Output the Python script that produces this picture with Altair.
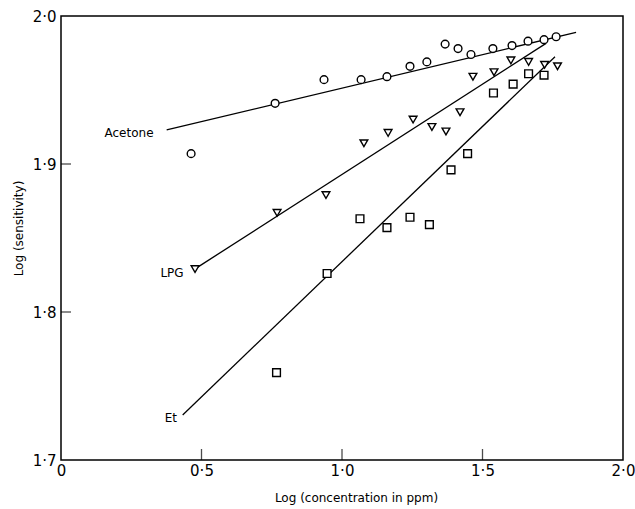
import altair as alt
import pandas as pd

# Acetone (circles)
acetone_x = [0.463, 0.762, 0.936, 1.068, 1.160, 1.242, 1.302, 1.367, 1.413, 1.459, 1.537, 1.605, 1.662, 1.719, 1.762]
acetone_y = [1.907, 1.941, 1.957, 1.957, 1.959, 1.966, 1.969, 1.981, 1.978, 1.974, 1.978, 1.980, 1.983, 1.984, 1.986]
# LPG (down triangles)
lpg_x = [0.477, 0.769, 0.943, 1.078, 1.164, 1.253, 1.320, 1.370, 1.420, 1.466, 1.541, 1.601, 1.664, 1.721, 1.767]
lpg_y = [1.829, 1.867, 1.879, 1.914, 1.921, 1.930, 1.925, 1.922, 1.935, 1.959, 1.962, 1.970, 1.969, 1.967, 1.966]
# Et (squares)
et_x = [0.767, 0.947, 1.064, 1.160, 1.242, 1.311, 1.388, 1.447, 1.539, 1.609, 1.664, 1.719]
et_y = [1.759, 1.826, 1.863, 1.857, 1.864, 1.859, 1.896, 1.907, 1.948, 1.954, 1.961, 1.960]

# fitted lines (end points)
acetone_line_x = [0.376, 1.833]
acetone_line_y = [1.923, 1.989]
lpg_line_x = [0.484, 1.726]
lpg_line_y = [1.830, 1.9815]
et_line_x = [0.433, 1.758]
et_line_y = [1.7304, 1.9725]

series_names = ["Acetone", "LPG", "Et"]
label_x = [0.242, 0.395, 0.391]
label_y = [1.921, 1.8264, 1.7284]

x_ticks = [0.5, 1.0, 1.5]
y_ticks = [1.8, 1.9]

pts = pd.concat([
    pd.DataFrame({"x": acetone_x, "y": acetone_y, "s": "Acetone"}),
    pd.DataFrame({"x": lpg_x, "y": lpg_y, "s": "LPG"}),
    pd.DataFrame({"x": et_x, "y": et_y, "s": "Et"}),
])
lines = pd.concat([
    pd.DataFrame({"x": acetone_line_x, "y": acetone_line_y, "s": "Acetone"}),
    pd.DataFrame({"x": lpg_line_x, "y": lpg_line_y, "s": "LPG"}),
    pd.DataFrame({"x": et_line_x, "y": et_line_y, "s": "Et"}),
])
labels = pd.DataFrame({"x": label_x, "y": label_y, "t": series_names})

FONT = "DejaVu Sans"
label_expr = "datum.value == 0 ? '0' : replace(format(datum.value, '.1f'), '.', '·')"

xs = alt.Scale(domain=[0, 2.0], nice=False, zero=False)
ys = alt.Scale(domain=[1.7, 2.0], nice=False, zero=False)

xaxis = alt.Axis(values=[0, 0.5, 1.0, 1.5, 2.0], labelExpr=label_expr, ticks=False, domain=False,
                 grid=False, labelFont=FONT, labelFontSize=15, labelColor="black", labelPadding=3,
                 labelFlush=False, labelOverlap=False,
                 title="Log (concentration in ppm)", titleFont=FONT, titleFontSize=12,
                 titleFontWeight="normal", titleColor="black", titleX=295, titleY=37,
                 titleBaseline="middle")
yaxis = alt.Axis(values=[1.7, 1.8, 1.9, 2.0], labelExpr=label_expr, ticks=False, domain=False,
                 grid=False, labelFont=FONT, labelFontSize=15, labelColor="black", labelPadding=5,
                 labelFlush=False, labelOverlap=False,
                 title="Log (sensitivity)", titleFont=FONT, titleFontSize=12,
                 titleFontWeight="normal", titleColor="black", titleX=-43, titleY=212,
                 titleAngle=-90, titleBaseline="middle", titleAlign="center")

line_layer = alt.Chart(lines).mark_line(color="black", strokeWidth=1.3).encode(
    x=alt.X("x:Q", scale=xs, axis=xaxis),
    y=alt.Y("y:Q", scale=ys, axis=yaxis),
    detail="s:N",
)

shape_scale = alt.Scale(domain=series_names, range=["circle", "triangle-down", "square"])
point_layer = alt.Chart(pts).mark_point(filled=False, fill="white", fillOpacity=1, stroke="black",
                                        strokeWidth=1.4, opacity=1).encode(
    x=alt.X("x:Q", scale=xs),
    y=alt.Y("y:Q", scale=ys),
    shape=alt.Shape("s:N", scale=shape_scale, legend=None),
    size=alt.value(60),
)

text_layer = alt.Chart(labels).mark_text(font=FONT, fontSize=12, color="black").encode(
    x=alt.X("x:Q", scale=xs),
    y=alt.Y("y:Q", scale=ys),
    text="t:N",
)

xtick_layer = alt.Chart(pd.DataFrame({"v": x_ticks})).mark_tick(
    orient="vertical", color="black", thickness=1.3, size=11).encode(
    x=alt.X("v:Q", scale=xs), y=alt.value(438.5))
ytick_layer = alt.Chart(pd.DataFrame({"v": y_ticks})).mark_tick(
    orient="horizontal", color="black", thickness=1.3, size=10).encode(
    y=alt.Y("v:Q", scale=ys), x=alt.value(5))

chart = alt.layer(line_layer, xtick_layer, ytick_layer, point_layer, text_layer).properties(
    width=562, height=444,
    autosize=alt.AutoSizeParams(type="none"),
    padding={"left": 61, "top": 16, "right": 12, "bottom": 49},
    background="white",
).configure_view(stroke="black", strokeWidth=1.5)

chart.save("out.html", embed_options={"renderer": "svg", "actions": False})
